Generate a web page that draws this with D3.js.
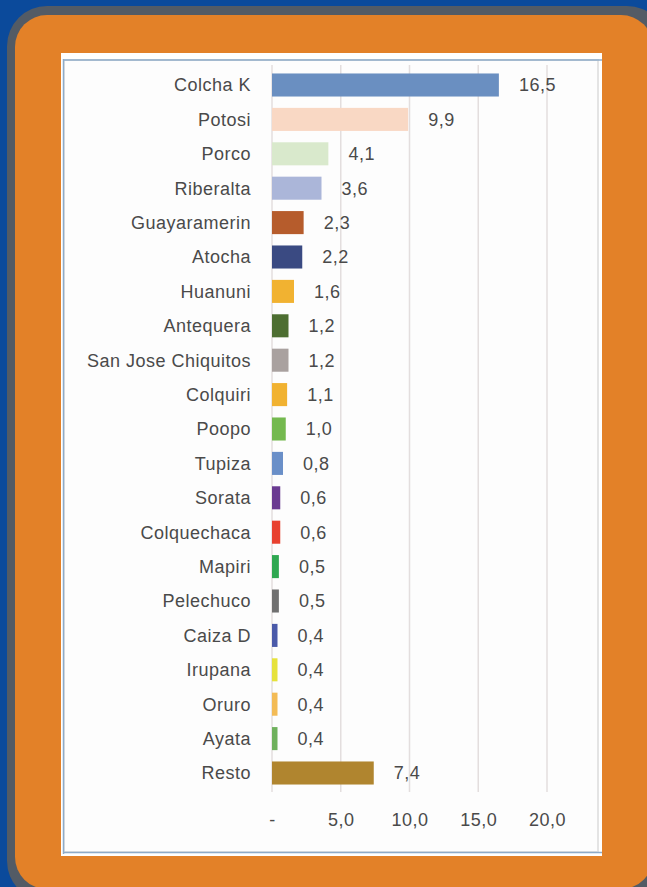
<!DOCTYPE html>
<html><head><meta charset="utf-8">
<script src="https://cdn.jsdelivr.net/npm/d3@7"></script>
<style>html,body{margin:0;padding:0;background:#0b4a9b;overflow:hidden}</style>
</head><body>
<script>
const categories = ["Colcha K","Potosi","Porco","Riberalta","Guayaramerin","Atocha","Huanuni","Antequera","San Jose Chiquitos","Colquiri","Poopo","Tupiza","Sorata","Colquechaca","Mapiri","Pelechuco","Caiza D","Irupana","Oruro","Ayata","Resto"];
const values = [16.5,9.9,4.1,3.6,2.3,2.2,1.6,1.2,1.2,1.1,1.0,0.8,0.6,0.6,0.5,0.5,0.4,0.4,0.4,0.4,7.4];
const colors = ["#6a8fc1","#f9d8c4","#d9e9cc","#abb6d9","#b65c2c","#3a4a82","#f1b231","#4d6e31","#a9a19f","#f1b231","#74b94f","#6a8fc8","#6a3a91","#e8412f","#2fa851","#707070","#4a5aa9","#e6e23c","#f3bb55","#6fb15d","#b0852f"];
const tickValues = [0,5,10,15,20];
const tickLabels = ["-","5,0","10,0","15,0","20,0"];

const W = 647, H = 887;
const svg = d3.select("body").append("svg").attr("width", W).attr("height", H);
svg.append("rect").attr("width", W).attr("height", H).attr("fill", "#0b4a9b");
// gray rounded frame and orange card
svg.append("rect").attr("x",7).attr("y",6).attr("width",660).attr("height",895).attr("rx",40).attr("fill","#535b65");
svg.append("rect").attr("x",15).attr("y",15).attr("width",638).attr("height",874).attr("rx",32).attr("fill","#e38128");
// white panel
svg.append("rect").attr("x",61).attr("y",53).attr("width",541).attr("height",803).attr("fill","#ffffff");
svg.append("rect").attr("x",64).attr("y",60).attr("width",534).attr("height",792).attr("fill","#fdfdfd")
  .attr("stroke","#e4e4e4").attr("stroke-width",2);
svg.append("line").attr("x1",63.5).attr("x2",63.5).attr("y1",59).attr("y2",854).attr("stroke","#8eabc8").attr("stroke-width",1.5);
svg.append("line").attr("x1",63).attr("x2",602).attr("y1",60).attr("y2",60).attr("stroke","#8eabc8").attr("stroke-width",1.5);
svg.append("line").attr("x1",63).attr("x2",602).attr("y1",852.5).attr("y2",852.5).attr("stroke","#8eabc8").attr("stroke-width",1.5);

const x = d3.scaleLinear().domain([0,20]).range([272,547]);
const y = d3.scaleBand().domain(categories).range([67.8,790.2]).paddingInner(0.33).paddingOuter(0.165);

const font = "'Liberation Sans', Arial, sans-serif";
const fs = 18, ls = 0.5, tc = "#4a4a4a";
const g = svg.append("g");
// gridlines
g.selectAll("line.grid").data(tickValues).join("line").attr("class","grid")
  .attr("x1",d=>x(d)).attr("x2",d=>x(d)).attr("y1",65).attr("y2",792)
  .attr("stroke","#e3dede").attr("stroke-width",1.5);

// bars
g.selectAll("rect.bar").data(categories).join("rect").attr("class","bar")
  .attr("x", x(0)).attr("y", d=>y(d)).attr("height", y.bandwidth())
  .attr("width", (d,i)=>x(values[i])-x(0)).attr("fill",(d,i)=>colors[i]);

// category labels
g.selectAll("text.cat").data(categories).join("text").attr("class","cat")
  .attr("x",251).attr("y",d=>y(d)+y.bandwidth()/2).attr("dy","0.36em")
  .attr("text-anchor","end").attr("font-family",font).attr("font-size",fs).attr("letter-spacing",ls)
  .attr("fill",tc).text(d=>d);

// value labels
g.selectAll("text.val").data(categories).join("text").attr("class","val")
  .attr("x",(d,i)=>x(values[i])+20).attr("y",d=>y(d)+y.bandwidth()/2).attr("dy","0.36em")
  .attr("font-family",font).attr("font-size",fs).attr("letter-spacing",ls).attr("fill",tc)
  .text((d,i)=>values[i].toFixed(1).replace(".",","));

// x axis
const axis = d3.axisBottom(x).tickValues(tickValues).tickFormat((d,i)=>tickLabels[i]).tickSize(0).tickPadding(0);
const ax = svg.append("g").attr("transform","translate(0,813)").call(axis);
ax.select(".domain").remove();
ax.selectAll("text").attr("font-family",font).attr("font-size",fs).attr("letter-spacing",ls).attr("fill",tc);
</script>
</body></html>
